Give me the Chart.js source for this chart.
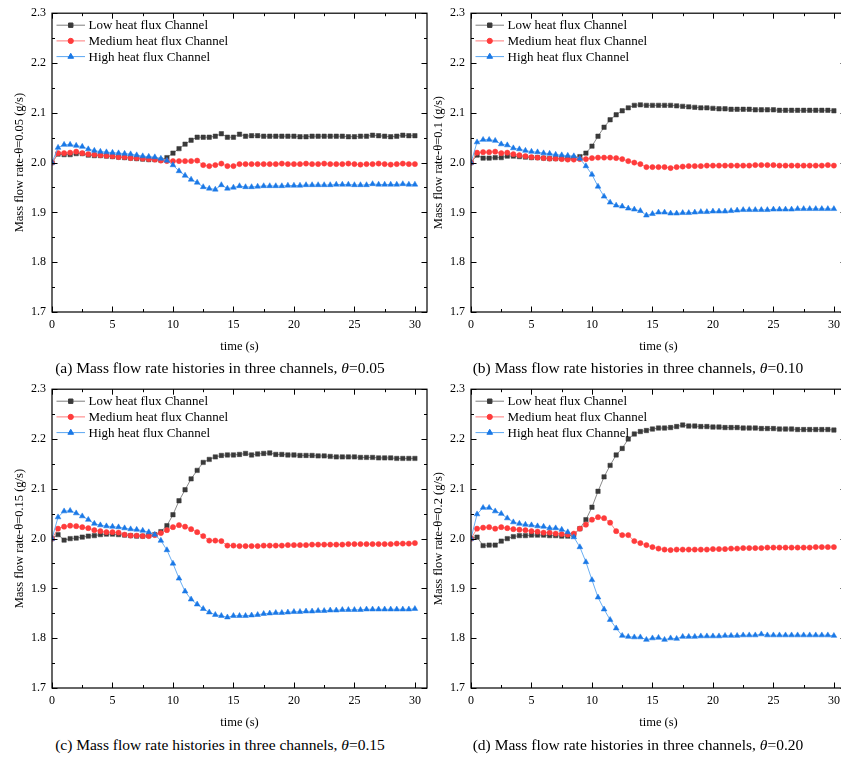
<!DOCTYPE html>
<html>
<head>
<meta charset="utf-8">
<script src="https://cdn.jsdelivr.net/npm/chart.js@4.4.1/dist/chart.umd.min.js"></script>
<style>
  html, body { margin: 0; padding: 0; background: #fff; }
  body { width: 841px; height: 759px; overflow: hidden; position: relative; }
  canvas { position: absolute; }
  .cap { position: absolute; font-family: "Liberation Serif", "Times New Roman", serif; font-size: 15.5px; color: #000; white-space: nowrap; transform: translate(-50%, -50%); line-height: 1; }
</style>
</head>
<body>
<canvas id="cA" width="440" height="360" style="left:0px;top:0px;"></canvas>
<canvas id="cB" width="440" height="360" style="left:419px;top:0px;"></canvas>
<canvas id="cC" width="440" height="360" style="left:0px;top:376px;"></canvas>
<canvas id="cD" width="440" height="360" style="left:419px;top:376px;"></canvas>
<div class="cap" style="left:220px;top:368px;">(a) Mass flow rate histories in three channels, <i>θ</i>=0.05</div>
<div class="cap" style="left:638px;top:368px;">(b) Mass flow rate histories in three channels, <i>θ</i>=0.10</div>
<div class="cap" style="left:220px;top:745px;">(c) Mass flow rate histories in three channels, <i>θ</i>=0.15</div>
<div class="cap" style="left:638px;top:745px;">(d) Mass flow rate histories in three channels, <i>θ</i>=0.20</div>
<script>
// ---- data ----
const timeS = [0,0.5,1,1.5,2,2.5,3,3.5,4,4.5,5,5.5,6,6.5,7,7.5,8,8.5,9,9.5,10,10.5,11,11.5,12,12.5,13,13.5,14,14.5,15,15.5,16,16.5,17,17.5,18,18.5,19,19.5,20,20.5,21,21.5,22,22.5,23,23.5,24,24.5,25,25.5,26,26.5,27,27.5,28,28.5,29,29.5,30];

const seriesNames = ['Low heat flux Channel', 'Medium heat flux Channel', 'High heat flux Channel'];
const yTitles = ['Mass flow rate-θ=0.05 (g/s)', 'Mass flow rate-θ=0.1 (g/s)', 'Mass flow rate-θ=0.15 (g/s)', 'Mass flow rate-θ=0.2 (g/s)'];
const yTickValues = [1.7, 1.8, 1.9, 2.0, 2.1, 2.2, 2.3];
const xTickValues = [0, 5, 10, 15, 20, 25, 30];

// theta = 0.05
const lowA  = [2.000,2.017,2.016,2.016,2.018,2.018,2.015,2.014,2.014,2.013,2.012,2.011,2.010,2.009,2.008,2.007,2.006,2.006,2.005,2.010,2.019,2.028,2.037,2.045,2.051,2.051,2.051,2.053,2.058,2.051,2.051,2.057,2.053,
               2.054,2.054,2.053,2.053,2.053,2.053,2.053,2.053,2.052,2.052,2.053,2.053,2.053,2.053,2.053,2.053,2.052,2.052,2.053,2.053,2.055,2.054,2.053,2.052,2.053,2.055,2.054,2.054];
const medA  = [2.000,2.019,2.019,2.020,2.022,2.019,2.017,2.016,2.015,2.014,2.013,2.011,2.011,2.009,2.009,2.008,2.007,2.006,2.004,2.003,2.003,2.003,2.003,2.003,2.004,1.995,1.993,1.995,1.998,1.993,1.993,1.997,1.997,
               1.997,1.997,1.997,1.997,1.997,1.998,1.997,1.997,1.997,1.998,1.997,1.997,1.998,1.997,1.997,1.997,1.998,1.997,1.996,1.997,1.997,1.998,1.997,1.996,1.997,1.998,1.997,1.997];
const highA = [2.000,2.030,2.036,2.036,2.034,2.032,2.027,2.024,2.022,2.021,2.020,2.019,2.018,2.017,2.015,2.013,2.012,2.011,2.008,2.004,1.995,1.983,1.974,1.966,1.960,1.951,1.948,1.946,1.955,1.948,1.950,1.953,1.951,
               1.951,1.952,1.953,1.953,1.953,1.953,1.954,1.954,1.954,1.955,1.955,1.955,1.955,1.955,1.956,1.956,1.956,1.955,1.955,1.955,1.957,1.956,1.956,1.956,1.956,1.957,1.956,1.956];

// theta = 0.10
const lowB  = [2.000,2.015,2.009,2.009,2.010,2.010,2.013,2.013,2.012,2.011,2.010,2.010,2.009,2.008,2.008,2.008,2.008,2.009,2.012,2.019,2.033,2.053,2.071,2.086,2.096,2.104,2.110,2.115,2.116,2.115,2.115,2.115,2.115,
               2.115,2.114,2.113,2.112,2.111,2.110,2.110,2.109,2.108,2.108,2.107,2.107,2.107,2.107,2.106,2.106,2.106,2.106,2.105,2.105,2.105,2.105,2.105,2.105,2.105,2.105,2.105,2.104];
const medB  = [2.000,2.020,2.021,2.021,2.022,2.019,2.020,2.017,2.015,2.013,2.011,2.010,2.009,2.008,2.008,2.007,2.006,2.006,2.007,2.007,2.009,2.010,2.010,2.010,2.009,2.007,2.003,2.000,1.997,1.991,1.991,1.991,1.991,
               1.989,1.991,1.992,1.993,1.993,1.993,1.994,1.994,1.994,1.994,1.994,1.994,1.994,1.994,1.995,1.995,1.995,1.995,1.994,1.994,1.994,1.994,1.994,1.994,1.994,1.994,1.995,1.994];
const highB = [2.000,2.041,2.046,2.046,2.044,2.037,2.035,2.029,2.027,2.024,2.022,2.021,2.019,2.018,2.016,2.015,2.014,2.013,2.008,1.993,1.976,1.952,1.932,1.920,1.914,1.912,1.908,1.906,1.903,1.894,1.897,1.900,1.900,
               1.898,1.898,1.899,1.899,1.900,1.901,1.901,1.902,1.902,1.902,1.903,1.904,1.905,1.905,1.905,1.905,1.905,1.906,1.906,1.906,1.906,1.907,1.907,1.907,1.907,1.907,1.907,1.907];

// theta = 0.15
const lowC  = [2.000,2.008,1.997,2.000,2.001,2.003,2.005,2.006,2.008,2.009,2.009,2.008,2.007,2.006,2.005,2.005,2.006,2.008,2.014,2.026,2.048,2.076,2.098,2.120,2.137,2.153,2.159,2.164,2.167,2.168,2.168,2.169,2.171,
               2.168,2.170,2.171,2.172,2.169,2.169,2.168,2.168,2.167,2.167,2.167,2.166,2.166,2.165,2.164,2.164,2.164,2.164,2.163,2.163,2.163,2.162,2.162,2.162,2.161,2.161,2.161,2.161];
const medC  = [2.000,2.020,2.024,2.026,2.025,2.023,2.021,2.017,2.015,2.013,2.013,2.012,2.008,2.006,2.006,2.005,2.005,2.007,2.011,2.017,2.023,2.027,2.024,2.019,2.013,2.005,1.996,1.996,1.995,1.986,1.986,1.985,1.985,
               1.985,1.985,1.986,1.986,1.986,1.986,1.987,1.987,1.987,1.987,1.988,1.988,1.988,1.988,1.988,1.988,1.989,1.989,1.989,1.989,1.989,1.989,1.989,1.989,1.990,1.990,1.990,1.991];
const highC = [2.000,2.043,2.055,2.056,2.051,2.045,2.038,2.030,2.027,2.025,2.024,2.023,2.021,2.019,2.018,2.016,2.013,2.008,1.996,1.977,1.950,1.920,1.894,1.878,1.868,1.859,1.852,1.847,1.845,1.842,1.845,1.845,1.845,
               1.846,1.847,1.849,1.850,1.851,1.851,1.852,1.853,1.853,1.854,1.854,1.855,1.855,1.856,1.856,1.857,1.857,1.857,1.857,1.858,1.858,1.858,1.858,1.858,1.858,1.858,1.858,1.859];

// theta = 0.20
const lowD  = [2.000,2.003,1.986,1.987,1.987,1.995,2.000,2.004,2.006,2.006,2.007,2.007,2.007,2.006,2.006,2.005,2.005,2.008,2.020,2.038,2.063,2.095,2.124,2.147,2.168,2.181,2.200,2.210,2.215,2.217,2.220,2.222,2.222,
               2.223,2.225,2.228,2.226,2.226,2.225,2.225,2.224,2.224,2.223,2.223,2.223,2.222,2.222,2.222,2.221,2.221,2.221,2.220,2.220,2.220,2.219,2.219,2.219,2.219,2.219,2.219,2.218];
const medD  = [2.000,2.020,2.022,2.023,2.020,2.023,2.021,2.019,2.018,2.017,2.015,2.014,2.012,2.012,2.010,2.009,2.008,2.010,2.020,2.028,2.038,2.043,2.041,2.032,2.015,2.007,2.007,1.995,1.991,1.987,1.983,1.980,1.978,
               1.977,1.978,1.978,1.978,1.978,1.978,1.978,1.979,1.979,1.979,1.980,1.980,1.981,1.981,1.981,1.981,1.982,1.982,1.982,1.982,1.982,1.982,1.982,1.982,1.983,1.983,1.983,1.983];
const highD = [2.000,2.049,2.062,2.062,2.055,2.050,2.041,2.033,2.030,2.028,2.027,2.025,2.024,2.021,2.021,2.018,2.013,2.003,1.983,1.953,1.917,1.882,1.858,1.837,1.820,1.805,1.803,1.802,1.802,1.797,1.800,1.801,1.797,
               1.800,1.799,1.803,1.803,1.803,1.804,1.804,1.804,1.804,1.805,1.805,1.805,1.806,1.806,1.806,1.808,1.806,1.806,1.806,1.806,1.806,1.806,1.806,1.806,1.806,1.806,1.806,1.805];

// ---- styles ----
const FONT = '"Liberation Serif", "Times New Roman", serif';
Chart.defaults.font.family = FONT;
Chart.defaults.color = '#000';

const styles = [
  { line: '#7d7d7d', mark: '#3a3a3a', pointStyle: 'rect', radius: 3.1, order: 3 },
  { line: '#ff7a7a', mark: '#ff3b3b', pointStyle: 'circle', radius: 2.6, order: 2 },
  { line: '#5aa6f2', mark: '#1a78e6', pointStyle: 'triangle', radius: 3.3, order: 1 }
];

const framePlugin = {
  id: 'frameTicks',
  afterDatasetsDraw(chart) {
    const { ctx, chartArea: a, scales: { x, y } } = chart;
    ctx.save();
    ctx.strokeStyle = '#000';
    ctx.lineWidth = 1.2;
    ctx.strokeRect(a.left, a.top, a.right - a.left, a.bottom - a.top);
    ctx.lineWidth = 1;
    ctx.beginPath();
    const xt = x.ticks.map(t => t.value);
    const yt = y.ticks.map(t => t.value);
    const xMinor = [], yMinor = [];
    for (let i = 0; i < xt.length - 1; i++) xMinor.push((xt[i] + xt[i + 1]) / 2);
    for (let i = 0; i < yt.length - 1; i++) yMinor.push((yt[i] + yt[i + 1]) / 2);
    const vx = (v, len) => { const p = Math.round(x.getPixelForValue(v)) + 0.5; ctx.moveTo(p, a.bottom); ctx.lineTo(p, a.bottom - len); ctx.moveTo(p, a.top); ctx.lineTo(p, a.top + len); };
    const hy = (v, len) => { const p = Math.round(y.getPixelForValue(v)) + 0.5; ctx.moveTo(a.left, p); ctx.lineTo(a.left + len, p); ctx.moveTo(a.right, p); ctx.lineTo(a.right - len, p); };
    xt.forEach(v => vx(v, 5.5));
    xMinor.forEach(v => vx(v, 3));
    yt.forEach(v => hy(v, 5.5));
    yMinor.forEach(v => hy(v, 3));
    ctx.stroke();
    ctx.restore();
  }
};

const legendPlugin = {
  id: 'inlineLegend',
  afterDraw(chart) {
    const { ctx, chartArea: a } = chart;
    chart.data.datasets.forEach((ds, i) => {
      const yy = a.top + 12 + i * 15.7;
      const x0 = a.left + 4.5, x1 = a.left + 33;
      ctx.save();
      ctx.strokeStyle = ds.borderColor;
      ctx.lineWidth = 1;
      ctx.beginPath(); ctx.moveTo(x0, yy); ctx.lineTo(x1, yy); ctx.stroke();
      ctx.fillStyle = ds.pointBackgroundColor;
      ctx.strokeStyle = ds.pointBorderColor;
      Chart.helpers.drawPoint(ctx, { pointStyle: ds.pointStyle, radius: ds.pointRadius, rotation: 0, borderWidth: 0.5 }, (x0 + x1) / 2, yy);
      ctx.font = '13px ' + FONT;
      ctx.fillStyle = '#000';
      ctx.textBaseline = 'middle';
      ctx.textAlign = 'left';
      ctx.fillText(ds.label, a.left + 36.5, yy + 0.5);
      ctx.restore();
    });
  }
};

function makeChart(id, seriesList, yTitle) {
  const datasets = seriesList.map((vals, i) => ({
    label: seriesNames[i],
    data: timeS.map((t, k) => ({ x: t, y: vals[k] })),
    borderColor: styles[i].line,
    borderWidth: 0.9,
    pointStyle: styles[i].pointStyle,
    pointRadius: styles[i].radius,
    pointBackgroundColor: styles[i].mark,
    pointBorderColor: styles[i].mark,
    pointBorderWidth: 0.5,
    tension: 0,
    fill: false,
    order: styles[i].order
  }));
  return new Chart(document.getElementById(id), {
    type: 'line',
    data: { datasets },
    options: {
      responsive: false,
      animation: false,
      events: [],
      layout: { padding: { top: 11, right: 13, left: 0, bottom: 0 } },
      plugins: { legend: { display: false }, tooltip: { enabled: false } },
      scales: {
        x: {
          type: 'linear', min: 0, max: 31,
          afterFit(s) { s.height = 48; },
          grid: { display: false, drawTicks: false },
          border: { display: false },
          afterBuildTicks(s) { s.ticks = xTickValues.map(v => ({ value: v })); },
          ticks: { padding: 6, font: { size: 12 }, color: '#000', maxRotation: 0, autoSkip: false, includeBounds: false },
          title: { display: true, text: 'time (s)', font: { size: 12.5 }, color: '#000', padding: { top: 0, bottom: 5.5 } }
        },
        y: {
          type: 'linear', min: 1.7, max: 2.3,
          afterFit(s) { s.width = 52; },
          grid: { display: false, drawTicks: false },
          border: { display: false },
          afterBuildTicks(s) { s.ticks = yTickValues.map(v => ({ value: v })); },
          ticks: { padding: 6, font: { size: 12 }, color: '#000', callback: v => Number(v).toFixed(1) },
          title: { display: true, text: yTitle, font: { size: 12.5 }, color: '#000', padding: { top: 12.5, bottom: 0 } }
        }
      }
    },
    plugins: [framePlugin, legendPlugin]
  });
}

makeChart('cA', [lowA, medA, highA], yTitles[0]);
makeChart('cB', [lowB, medB, highB], yTitles[1]);
makeChart('cC', [lowC, medC, highC], yTitles[2]);
makeChart('cD', [lowD, medD, highD], yTitles[3]);
</script>
</body>
</html>
